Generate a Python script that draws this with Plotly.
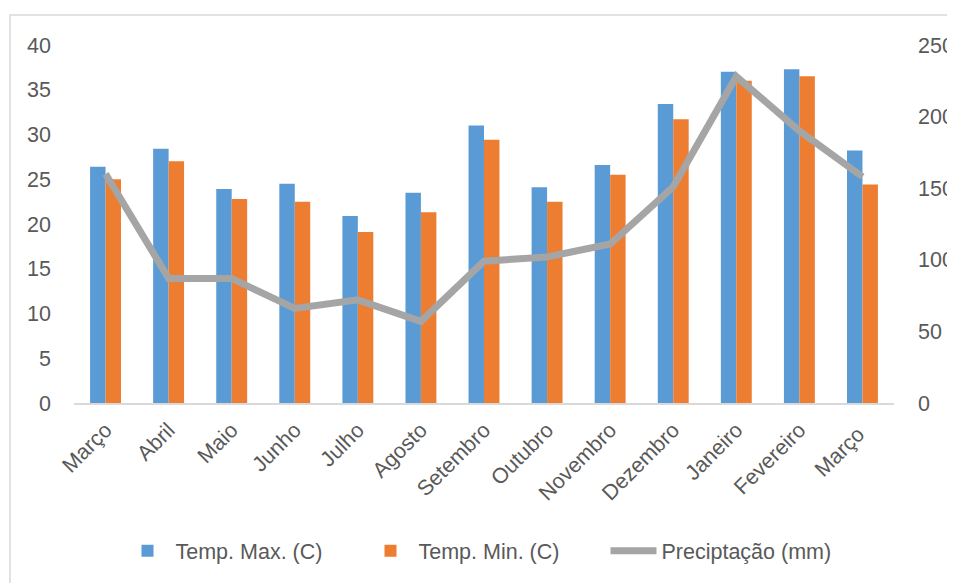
import plotly.graph_objects as go

months = ["Março", "Abril", "Maio", "Junho", "Julho", "Agosto", "Setembro",
          "Outubro", "Novembro", "Dezembro", "Janeiro", "Fevereiro", "Março "]
temp_max = [26.4, 28.4, 23.9, 24.5, 20.9, 23.5, 31.0, 24.1, 26.6, 33.4, 37.0, 37.3, 28.2]
temp_min = [25.0, 27.0, 22.8, 22.5, 19.1, 21.3, 29.4, 22.5, 25.5, 31.7, 36.0, 36.5, 24.4]
precip = [160, 87, 87, 66, 72, 57, 99, 102, 111, 151, 228, 190, 158]

font_family = "Liberation Sans, Arial, sans-serif"
text_color = "#595959"
fs = 21.5

fig = go.Figure()
fig.add_trace(go.Bar(x=months, y=temp_max, name="Temp. Max. (C)",
                     marker=dict(color="#5B9BD5", line=dict(width=0))))
fig.add_trace(go.Bar(x=months, y=temp_min, name="Temp. Min. (C)",
                     marker=dict(color="#ED7D31", line=dict(width=0))))
fig.add_trace(go.Scatter(x=months, y=precip, name="Preciptação (mm)", yaxis="y2",
                         mode="lines", line=dict(color="#A5A5A5", width=7)))

fig.update_layout(
    width=955, height=583,
    margin=dict(l=66, r=69, t=37, b=188, autoexpand=False),
    paper_bgcolor="white", plot_bgcolor="white",
    font=dict(family=font_family, size=fs, color=text_color),
    barmode="group", bargap=0.51, bargroupgap=0,
    showlegend=True,
    legend=dict(orientation="h", x=0.5, xanchor="center", y=-0.413, yanchor="middle",
                font=dict(size=fs, color=text_color), traceorder="normal",
                itemwidth=46, entrywidth=182),
    xaxis=dict(tickangle=-45, showgrid=False, showline=True, linecolor="#D9D9D9",
               linewidth=2, ticks="", automargin=False, ticklabelstandoff=4,
               tickfont=dict(size=fs, color=text_color)),
    yaxis=dict(range=[0, 40], dtick=5, showgrid=False, zeroline=False, showline=False,
               ticks="", ticklabelstandoff=22, automargin=False,
               tickfont=dict(size=fs, color=text_color)),
    yaxis2=dict(range=[0, 250], dtick=50, overlaying="y", side="right", showgrid=False,
                zeroline=False, showline=False, ticks="", ticklabelstandoff=23,
                automargin=False, tickfont=dict(size=fs, color=text_color)),
    shapes=[dict(type="rect", xref="paper", yref="paper",
                 x0=-64/820, x1=1 + 90/820, y0=1 + 30/358, y1=-210/358,
                 line=dict(color="#D9D9D9", width=1.5), fillcolor="rgba(0,0,0,0)")],
)

fig.write_html("out.html")
